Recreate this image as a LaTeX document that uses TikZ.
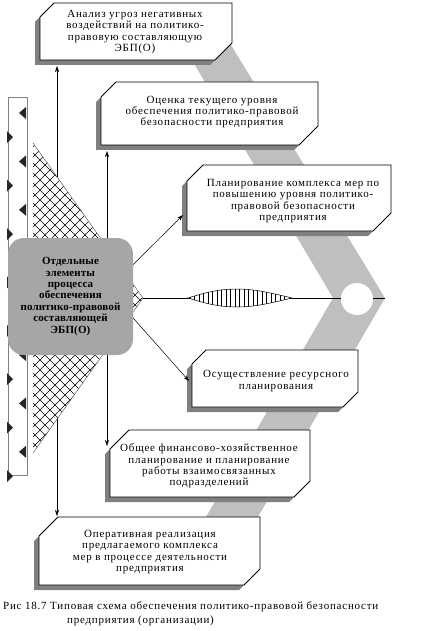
\documentclass[tikz,border=0pt]{standalone}
\usepackage{fontspec}
\setmainfont{Liberation Serif}[LetterSpace=7, BoldFeatures={LetterSpace=1}]
\usetikzlibrary{arrows.meta}
\newcommand\ebpbox[6]{%
  \fill[shadowc,xshift=-5pt,yshift=-5pt] (#1+#5,#2) -- (#3,#2) -- (#3,#4-#6) -- (#3-#6,#4) -- (#1,#4) -- (#1,#2+#5) -- cycle;
  \filldraw[boxline] (#1+#5,#2) -- (#3,#2) -- (#3,#4-#6) -- (#3-#6,#4) -- (#1,#4) -- (#1,#2+#5) -- cycle;}
\colorlet{bandc}{black!25}
\colorlet{shadowc}{black!50}
\colorlet{corec}{black!35}
\tikzset{
  boxline/.style={draw=black, line width=0.8pt, fill=white},
  txt/.style={align=center, font=\fontsize{11}{11.4}\selectfont, inner sep=0pt},
  arr/.style={-{Stealth[length=6pt,width=4pt]}, line width=0.5pt},
  darr/.style={{Stealth[length=6pt,width=4pt]}-{Stealth[length=6pt,width=4pt]}, line width=0.5pt},
  corebox/.style={fill=corec, rounded corners=16pt, minimum width=125pt, minimum height=117pt,
    inner sep=0pt, align=center, font=\bfseries\fontsize{11}{11.4}\selectfont},
  tri/.style={fill=black!85},
}
\begin{document}
\begin{tikzpicture}[x=1pt,y=-1pt]
\useasboundingbox[fill=white] (0,0) rectangle (422,631);
% chevron band
\fill[bandc] (180,40) -- (228,40) -- (385,298) -- (233,560) -- (181,560) -- (333,298) -- cycle;
% left strip
\draw[black!50, line width=0.8pt, fill=white] (8,97) rectangle (27,475);
\foreach \k in {0,2,...,14} {
  \fill[tri] (19,113+24.2*\k) -- (26,107+24.2*\k) -- (26,119+24.2*\k) -- cycle;}
\foreach \k in {1,3,...,15} {
  \fill[tri] (13,113+24.2*\k) -- (7,107+24.2*\k) -- (7,119+24.2*\k) -- cycle;}
% vertical connectors (behind hatch and core)
\coordinate (a1) at (57,66);
\coordinate (a6) at (57,516);
\coordinate (a2) at (107,151);
\coordinate (a5) at (107,446);
\draw[darr] (a1) -- (a6);
\draw[darr] (a2) -- (a5);
% hatched triangle
\coordinate (h1) at (33,143);
\coordinate (htip) at (143,298);
\coordinate (h3) at (33,453);
\begin{scope}
  \clip (h1) -- (htip) -- (h3) -- cycle;
  \fill[white] (h1) -- (htip) -- (h3) -- cycle;
  \foreach \c in {-310,-300,...,150} {\draw[line width=0.5pt] (\c,130) -- ++(340,340);}
  \foreach \c in {30,40,...,490} {\draw[line width=0.5pt] (\c,130) -- ++(-340,340);}
\end{scope}
\draw[black!60, line width=0.5pt] (h1) -- (htip) -- (h3);
% core box
\node[corebox] (core) at (70.5,296.5) {Отдельные\\элементы\\процесса\\обеспечения\\политико-правовой\\составляющей\\ЭБП(О)};
% horizontal axis
\coordinate (apex) at (385,298);
\draw[line width=0.5pt] (htip) -- (apex);
% spindle
\begin{scope}
  \clip (188,298) .. controls (210,291) and (222,289) .. (238,289) .. controls (256,289) and (275,294) .. (292,298)
        .. controls (275,302) and (256,307) .. (238,307) .. controls (222,307) and (210,305) .. (188,298) -- cycle;
  \fill[white] (186,286) rectangle (294,310);
  \foreach \x in {190,194.5,...,292} {\draw[line width=0.6pt] (\x,286) -- (\x,310);}
\end{scope}
\draw[line width=0.5pt] (188,298) .. controls (210,291) and (222,289) .. (238,289) .. controls (256,289) and (275,294) .. (292,298)
        .. controls (275,302) and (256,307) .. (238,307) .. controls (222,307) and (210,305) .. (188,298) -- cycle;
\node[circle, fill=white, minimum size=32pt, inner sep=0pt] (hub) at (357,299) {};
% boxes
\ebpbox{40}{3}{232}{60}{14}{17}
\ebpbox{101}{82}{318}{145}{15}{19}
\ebpbox{187}{165}{391}{231}{16}{18}
\ebpbox{192}{350}{358}{407}{14}{15}
\ebpbox{110}{430}{310}{497}{19}{16}
\ebpbox{39}{517}{260}{585}{19}{16}
\node[txt] (t1) at (135,32) {Анализ угроз негативных\\воздействий на политико-\\правовую составляющую\\ЭБП(О)};
\node[txt] (t2) at (212,112) {Оценка текущего уровня\\обеспечения политико-правовой\\безопасности предприятия};
\node[txt] (t3) at (293,201) {Планирование комплекса мер по\\повышению уровня политико-\\правовой безопасности\\предприятия};
\node[txt] (t4) at (276,381) {Осуществление ресурсного\\планирования};
\node[txt] (t5) at (209,466) {Общее финансово-хозяйственное\\планирование и планирование\\работы взаимосвязанных\\подразделений};
\node[txt] (t6) at (150,552) {Оперативная реализация\\предлагаемого комплекса\\мер в процессе деятельности\\предприятия};
% diagonal arrows
\coordinate (b3in) at (183,215);
\coordinate (b4in) at (189,381);
\draw[arr] (core.27) -- (b3in);
\draw[arr] (core.-19) -- (b4in);
% caption
\node[txt, anchor=west] (cap1) at (3,607) {Рис 18.7 Типовая схема обеспечения политико-правовой безопасности};
\node[txt, anchor=west] (cap2) at (67,621) {предприятия (организации)};
\end{tikzpicture}
\end{document}
